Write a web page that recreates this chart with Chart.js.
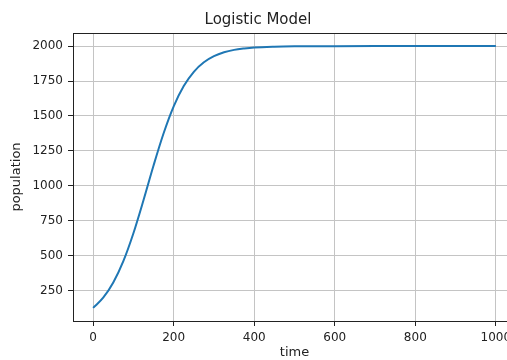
<!DOCTYPE html>
<html>
<head>
<meta charset="utf-8">
<script src="https://cdn.jsdelivr.net/npm/chart.js@4/dist/chart.umd.min.js"></script>
<style>
  html, body { margin: 0; padding: 0; background: #fff; overflow: hidden; width: 507px; height: 360px; }
  canvas { display: block; }
</style>
</head>
<body>
<canvas id="c" width="525" height="360"></canvas>
<script>
const times = [0, 25, 50, 75, 100, 125, 150, 175, 200, 225, 250, 275, 300, 325, 350, 375, 400, 450, 500, 600, 700, 800, 900, 1000];
const population = [125, 198, 307, 460, 660, 896, 1145, 1376, 1569, 1714, 1816, 1884, 1928, 1956, 1973, 1983, 1990, 1996, 1998.6, 1999.8, 2000, 2000, 2000, 2000];
const xTicks = [0, 200, 400, 600, 800, 1000];
const yTicks = [250, 500, 750, 1000, 1250, 1500, 1750, 2000];
const titleText = 'Logistic Model';
const xTitle = 'time';
const yTitle = 'population';

const FONT = "'DejaVu Sans', sans-serif";

const frame = {
  id: 'frame',
  afterDatasetsDraw(chart) {
    const a = chart.chartArea, ctx = chart.ctx;
    ctx.save();
    ctx.strokeStyle = '#222';
    ctx.lineWidth = 1;
    ctx.strokeRect(a.left + 0.5, a.top + 0.5, a.right - a.left - 1, a.bottom - a.top);
    ctx.restore();
  }
};

new Chart(document.getElementById('c'), {
  type: 'line',
  data: {
    datasets: [{
      data: times.map((t, i) => ({ x: t, y: population[i] })),
      borderColor: '#1f77b4',
      borderWidth: 2,
      pointRadius: 0,
      cubicInterpolationMode: 'monotone',
      fill: false
    }]
  },
  options: {
    responsive: false,
    animation: false,
    layout: { padding: { left: 0, right: 9, top: 0, bottom: 0 } },
    plugins: {
      legend: { display: false },
      tooltip: { enabled: false },
      title: {
        display: true,
        text: titleText,
        color: '#222',
        font: { family: FONT, size: 15, weight: 'normal', lineHeight: 1.2 },
        padding: { top: 11, bottom: 4 }
      }
    },
    scales: {
      x: {
        type: 'linear',
        min: -50,
        max: 1050,
        afterBuildTicks: (s) => { s.ticks = xTicks.map(v => ({ value: v })); },
        afterFit: (s) => { s.height = 39; },
        ticks: {
          color: '#222',
          font: { family: FONT, size: 12 },
          padding: 5,
          maxRotation: 0,
          autoSkip: false,
          callback: (v) => String(v)
        },
        grid: { color: '#c4c4c4', lineWidth: 1, tickLength: 5, tickColor: '#222' },
        border: { display: true, color: '#222', width: 1 },
        title: {
          display: true,
          text: xTitle,
          color: '#222',
          font: { family: FONT, size: 13, lineHeight: 1.2 },
          padding: { top: 0, bottom: 0 }
        }
      },
      y: {
        type: 'linear',
        min: 31,
        max: 2094,
        afterBuildTicks: (s) => { s.ticks = yTicks.map(v => ({ value: v })); },
        afterFit: (s) => { s.width = 73; },
        ticks: {
          color: '#222',
          font: { family: FONT, size: 12 },
          padding: 5,
          autoSkip: false,
          callback: (v) => String(v)
        },
        grid: { color: '#c4c4c4', lineWidth: 1, tickLength: 5, tickColor: '#222' },
        border: { display: true, color: '#222', width: 1 },
        title: {
          display: true,
          text: yTitle,
          color: '#222',
          font: { family: FONT, size: 13, lineHeight: 1.2 },
          padding: { top: 9, bottom: 0 }
        }
      }
    }
  },
  plugins: [frame]
});
</script>
</body>
</html>
